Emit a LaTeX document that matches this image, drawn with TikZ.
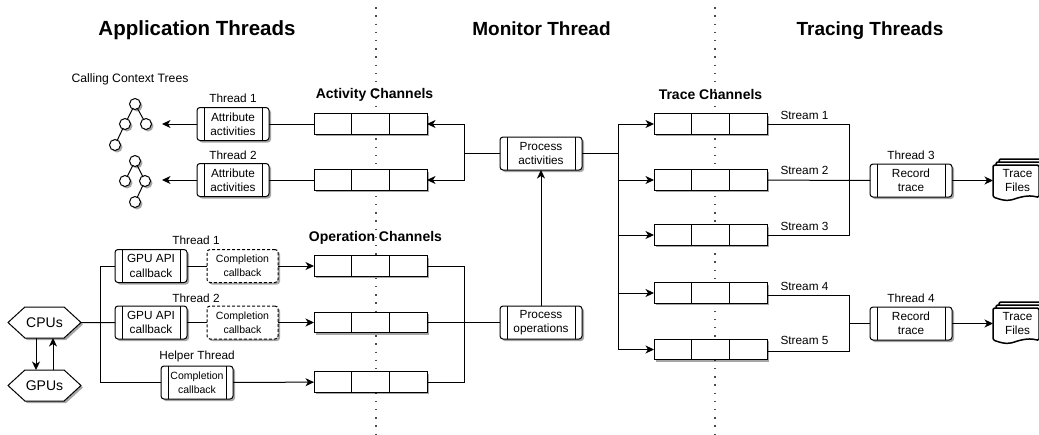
\documentclass[tikz,border=0pt]{standalone}
\usepackage{fontspec}
\setmainfont{Liberation Sans}
\usetikzlibrary{arrows.meta,shadows,shapes.symbols}
\newcommand{\bodyfont}{\fontsize{11.8}{14.4}\selectfont}
\newcommand{\smallfont}{\fontsize{10.5}{14}\selectfont}
\tikzset{boxshadow/.style={drop shadow={shadow xshift=2pt, shadow yshift=-2pt, opacity=.35, fill=black}}}
\tikzstyle{process} = [draw, fill=white, rounded corners=3pt, minimum width=72pt, minimum height=33pt, align=center, inner sep=0pt, outer sep=0pt, font=\bodyfont, boxshadow,
  path picture={\draw ([xshift=7pt]path picture bounding box.north west) -- ([xshift=7pt]path picture bounding box.south west);
    \draw ([xshift=-7pt]path picture bounding box.north east) -- ([xshift=-7pt]path picture bounding box.south east);}]
\tikzstyle{wideprocess} = [process, minimum width=82pt]
\tikzstyle{dashedbox} = [draw, fill=white, dashed, dash pattern=on 3pt off 2pt, rounded corners=3pt, minimum width=71pt, minimum height=33pt, align=center, inner sep=0pt, outer sep=0pt, font=\smallfont, boxshadow]
\tikzstyle{channel} = [draw, fill=white, minimum width=113pt, minimum height=20.5pt, inner sep=0pt, outer sep=0pt, boxshadow,
  path picture={\draw ([xshift=37.7pt]path picture bounding box.north west) -- ([xshift=37.7pt]path picture bounding box.south west);
    \draw ([xshift=-37.7pt]path picture bounding box.north east) -- ([xshift=-37.7pt]path picture bounding box.south east);}]
\tikzstyle{device} = [draw, fill=white, signal, signal to=west and east, signal pointer angle=85, minimum width=73pt, minimum height=31pt, inner sep=0pt, outer sep=0pt, font=\fontsize{14}{16}\selectfont, boxshadow]
\tikzstyle{treenode} = [draw, fill=white, circle, minimum size=11pt, inner sep=0pt, outer sep=0pt, boxshadow]
\tikzstyle{textlabel} = [font=\bodyfont, inner sep=0pt]
\tikzstyle{heading} = [font=\bfseries\fontsize{19}{24}\selectfont, inner sep=0pt, anchor=base]
\tikzstyle{chantitle} = [font=\bfseries\fontsize{14}{16}\selectfont, inner sep=0pt]
\tikzstyle{filestext} = [font=\bodyfont, align=center, minimum width=49pt, minimum height=33pt, inner sep=0pt, outer sep=0pt]
\tikzstyle{sheet} = [draw, fill=white, line width=1.5pt, rounded corners=1.5pt]
\tikzstyle{divider} = [gray!60!black, line width=1.4pt, dash pattern=on 1.4pt off 6.8pt]
\newcommand{\docsheet}[1]{\draw [sheet, shift={#1}] (0,0) -- (46,0) -- (46,32.5) .. controls (38,30) and (30,31) .. (20,34.5) .. controls (12,36.5) and (6,34) .. (0,32) -- cycle;}

\begin{document}
\begin{tikzpicture}[x=1pt, y=-1pt, line width=1pt, node distance=56pt, >={Stealth[length=8.5pt, width=8pt, inset=2.5pt]}]
\useasboundingbox (0,0) rectangle (1039,434);

% thread separators
\coordinate (sepAtop) at (376,-1);
\coordinate (sepAbot) at (376,434);
\coordinate (sepBtop) at (715,-1);
\coordinate (sepBbot) at (715,434);
\draw [divider] (sepAtop) -- (sepAbot);
\draw [divider] (sepBtop) -- (sepBbot);

\node [heading, font=\bfseries\fontsize{20.5}{24}\selectfont] (apptitle) at (197,35) {Application Threads};
\node [heading] (montitle) at (541.5,35) {Monitor Thread};
\node [heading] (tractitle) at (870,35) {Tracing Threads};

% activity side
\node [channel] (act1) at (370.5,124) {};
\node [channel, below of=act1] (act2) {};
\node [chantitle, above of=act1, node distance=29.5pt, xshift=4pt] (acttitle) {Activity Channels};
\node [process, left of=act1, node distance=137.5pt] (attr1) {Attribute\\activities};
\node [process, left of=act2, node distance=137.5pt] (attr2) {Attribute\\activities};
\node [textlabel, above of=attr1, node distance=25.5pt] (attr1label) {Thread 1};
\node [textlabel, above of=attr2, node distance=25pt] (attr2label) {Thread 2};
\node [textlabel, font=\fontsize{12.2}{14}\selectfont] (treetitle) at (130,79) {Calling Context Trees};

\node [treenode] (t1root) at (135,104) {};
\node [treenode] (t1left) at (125,124) {};
\node [treenode] (t1right) at (146,124) {};
\node [treenode] (t1leaf) at (115,145) {};
\node [treenode] (t2root) at (135,161) {};
\node [treenode] (t2left) at (125,181) {};
\node [treenode] (t2right) at (145,181) {};
\node [treenode] (t2leaf) at (135,202) {};
\draw (t1root) -- (t1left);
\draw (t1root) -- (t1right);
\draw (t1left) -- (t1leaf);
\draw (t2root) -- (t2left);
\draw (t2root) -- (t2right);
\draw (t2right) -- (t2leaf);

\coordinate (tree1end) at (162,124);
\coordinate (tree2end) at (162,180);
\draw [->] (attr1) -- (tree1end);
\draw [->] (attr2) -- (tree2end);
\draw (act1) -- (attr1);
\draw (act2) -- (attr2);

% operation side
\node [channel] (op1) at (370.5,266) {};
\node [channel, below of=op1, node distance=56.5pt] (op2) {};
\node [channel, below of=op2, node distance=59.5pt] (op3) {};
\node [chantitle, above of=op1, node distance=28.5pt, xshift=5pt] (optitle) {Operation Channels};

\node [dashedbox, left of=op1, node distance=128pt] (comp1) {Completion\\callback};
\node [dashedbox, left of=op2, node distance=128pt] (comp2) {Completion\\callback};
\node [process, left of=comp1, node distance=91.5pt] (gpu1) {GPU API\\callback};
\node [process, left of=comp2, node distance=91.5pt] (gpu2) {GPU API\\callback};
\node [process, font=\smallfont] (helper) at (197,382.5) {Completion\\callback};
\node [textlabel, above of=gpu1, node distance=26pt, xshift=45pt] (gpu1label) {Thread 1};
\node [textlabel, above of=gpu2, node distance=24.5pt, xshift=45pt] (gpu2label) {Thread 2};
\node [textlabel, above of=helper, node distance=26.5pt] (helperlabel) {Helper Thread};

\node [device] (cpus) at (44.5,322.5) {CPUs};
\node [device, below of=cpus, node distance=63pt] (gpus) {GPUs};
\draw [->] ([xshift=-8.5pt]cpus.south) -- ([xshift=-8.5pt]gpus.north);
\draw [->] ([xshift=8.5pt]gpus.north) -- ([xshift=8.5pt]cpus.south);

\coordinate (cpujoin) at (100,322.5);
\draw (cpus) -- (gpu2);
\draw (cpujoin) |- (gpu1);
\draw (cpujoin) |- (helper);
\draw (gpu1) -- (comp1);
\draw (gpu2) -- (comp2);
\draw [->] (comp1) -- (op1);
\draw [->] (comp2) -- (op2);
\draw [->] (helper) -- (op3);

% monitor thread
\node [wideprocess] (procact) at (541,153.5) {Process\\activities};
\node [wideprocess] (procop) at (541,322.5) {Process\\operations};
\draw [->] (procop) -- (procact);

\coordinate (actjoin) at (464,153.5);
\coordinate (opjoin) at (464,322.5);
\draw (procact) -- (actjoin);
\draw [->] (actjoin) |- (act1);
\draw [->] (actjoin) |- (act2);
\draw (op1) -| (opjoin);
\draw (op2) -- (procop);
\draw (op3) -| (opjoin);

% tracing threads
\node [channel] (trace1) at (710.5,124) {};
\node [channel, below of=trace1] (trace2) {};
\node [channel, below of=trace2, node distance=55pt] (trace3) {};
\node [channel, below of=trace3, node distance=58pt] (trace4) {};
\node [channel, below of=trace4, node distance=56.5pt] (trace5) {};
\node [chantitle, above of=trace1, node distance=29.5pt] (tracetitle) {Trace Channels};

\coordinate (tracejoin) at (618,153.5);
\draw (procact) -- (tracejoin);
\foreach \i in {1,...,5} {
  \draw [->] (tracejoin) |- (trace\i);
}

\node [textlabel, right of=trace1, node distance=94pt, yshift=9pt] (stream1) {Stream 1};
\node [textlabel, right of=trace2, node distance=94pt, yshift=10pt] (stream2) {Stream 2};
\node [textlabel, right of=trace3, node distance=94pt, yshift=9pt] (stream3) {Stream 3};
\node [textlabel, right of=trace4, node distance=94pt, yshift=7pt] (stream4) {Stream 4};
\node [textlabel, right of=trace5, node distance=94pt, yshift=9pt] (stream5) {Stream 5};

\node [wideprocess] (rec1) at (911,180.5) {Record\\trace};
\node [wideprocess] (rec2) at (911,323.5) {Record\\trace};
\node [textlabel, above of=rec1, node distance=25.5pt] (rec1label) {Thread 3};
\node [textlabel, above of=rec2, node distance=25.5pt] (rec2label) {Thread 4};

\coordinate (rec1join) at (849,180.5);
\coordinate (rec2join) at (849,323.5);
\draw (trace1) -| (rec1join);
\draw (trace2) -- (rec1);
\draw (trace3) -| (rec1join);
\draw ([yshift=-2.5pt]trace4.east) -| (rec2join);
\draw ([yshift=-1.5pt]trace5.east) -| (rec2join);
\draw (rec2join) -- (rec2);

\foreach \sheetoff in {6,3,0} {
  \docsheet{(993+\sheetoff,165-\sheetoff)}
  \docsheet{(993+\sheetoff,308-\sheetoff)}
}
\node [filestext] (files1) at (1017.5,180.5) {Trace\\Files};
\node [filestext] (files2) at (1017.5,323.5) {Trace\\Files};
\draw [->] (rec1) -- (files1);
\draw [->] (rec2) -- (files2);
\end{tikzpicture}
\end{document}
